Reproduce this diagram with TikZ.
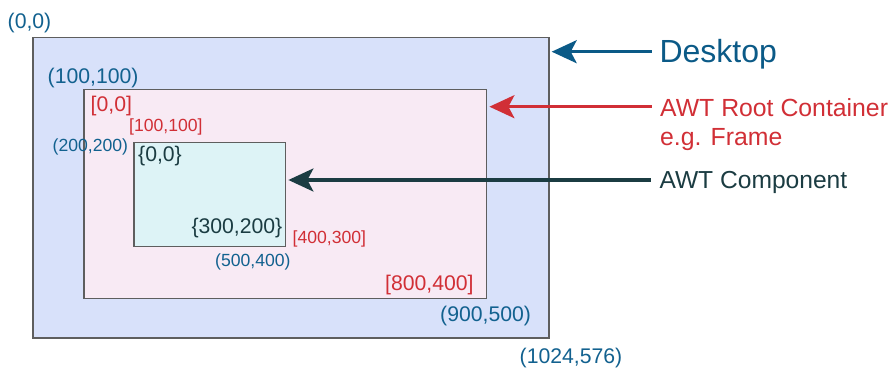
\documentclass[tikz,border=0pt]{standalone}
\usepackage{fontspec}
\setmainfont{Liberation Sans}
\usetikzlibrary{arrows.meta}
\definecolor{cblue}{HTML}{12618F}
\definecolor{cdesk}{HTML}{0B5A87}
\definecolor{cred}{HTML}{D12F36}
\definecolor{cdark}{HTML}{1B3C42}
\definecolor{fdesk}{HTML}{D8E1FA}
\definecolor{fframe}{HTML}{F8EAF4}
\definecolor{fcomp}{HTML}{DDF3F6}
\definecolor{cborder}{HTML}{5E5E5E}
\tikzset{
  box/.style={draw=cborder, line width=1.2pt, inner sep=0pt, anchor=north west},
  lbl/.style={inner sep=0pt, anchor=base west},
  big/.style={lbl, font=\fontsize{21.2}{25}\selectfont},
  small/.style={lbl, font=\fontsize{17.6}{21}\selectfont},
  callout/.style={line width=3.2pt, -{Stealth[length=25pt, width=23pt, inset=6pt]}, shorten >=2.2pt}
}
\begin{document}
\begin{tikzpicture}[x=1pt, y=-1pt]
\useasboundingbox (0,0) rectangle (892,369);
% rectangles
\node[box, fill=fdesk, minimum width=516pt, minimum height=300pt] (desk) at (32.3,37.3) {};
\node[box, fill=fframe, minimum width=402.7pt, minimum height=208.4pt] (frame) at (83.3,89.3) {};
\node[box, fill=fcomp, minimum width=151.7pt, minimum height=104pt] (comp) at (133.3,141.7) {};
% coordinate labels
\node[big, text=cblue] (l00) at (7.5,28.3) {(0,0)};
\node[big, text=cblue] (l100) at (47.5,83.3) {(100,100)};
\node[big, text=cred] (f00) at (90.5,111.5) {[0,0]};
\node[small, text=cred] (f100) at (129,131.5) {[100,100]};
\node[small, text=cblue] (l200) at (52.5,151.5) {(200,200)};
\node[big, text=cdark] (c00) at (138,161.7) {\{0,0\}};
\node[big, text=cdark] (c300) at (191.3,233.3) {\{300,200\}};
\node[small, text=cred] (f400) at (292.5,243.3) {[400,300]};
\node[small, text=cblue] (l500) at (215,266.5) {(500,400)};
\node[big, text=cred] (f800) at (385,290) {[800,400]};
\node[big, text=cblue] (l900) at (440,321.7) {(900,500)};
\node[big, text=cblue] (l1024) at (519.5,363.3) {(1024,576)};
% legend texts
\node[lbl, text=cdesk, font=\fontsize{32}{37}\selectfont] (tdesk) at (659.3,62.3) {Desktop};
\node[lbl, text=cred, font=\fontsize{24.8}{29}\selectfont] (tframe) at (660,116.7) {AWT Root Container};
\node[lbl, text=cred, font=\fontsize{24.8}{29}\selectfont] (tframe2) at (660,145) {e.g. Frame};
\node[lbl, text=cdark, font=\fontsize{24.6}{29}\selectfont] (tcomp) at (659.3,188.3) {AWT Component};
% arrows
\coordinate (a1) at (651.7,51.7);
\coordinate (a2) at (651.7,106.7);
\coordinate (a3) at (650.5,180);
\draw[callout, draw=cdesk] (a1) -- (desk.east |- a1);
\draw[callout, draw=cred] (a2) -- (frame.east |- a2);
\draw[callout, draw=cdark] (a3) -- (comp.east |- a3);
\end{tikzpicture}
\end{document}
